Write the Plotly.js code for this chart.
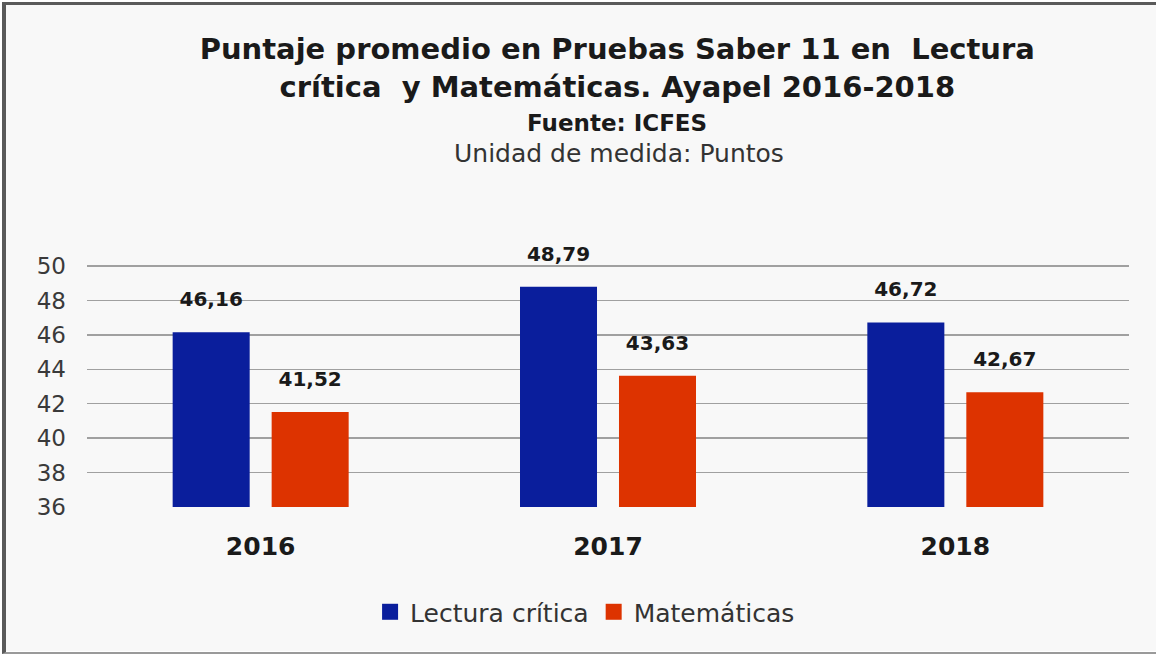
<!DOCTYPE html>
<html>
<head>
<meta charset="utf-8">
<script src="https://cdn.plot.ly/plotly-3.0.1.min.js"></script>
<style>
  html, body { margin: 0; padding: 0; background: #ffffff; }
  #wrap { position: absolute; left: 0; top: 0; width: 1156px; height: 654px; overflow: hidden; background: #ffffff; }
  #bg { position: absolute; left: 3px; top: 3px; width: 1200px; height: 648px; background: #f8f8f8; }
  #chart { position: absolute; left: 0; top: 0; width: 1156px; height: 654px; }
  #frame { position: absolute; left: 2px; top: 2px; width: 1200px; height: 647px;
           border-left: 4px solid #5a5a5a; border-top: 3px solid #5a5a5a; border-bottom: 2px solid #9a9a9a;
           pointer-events: none; }
</style>
</head>
<body>
<div id="wrap">
  <div id="bg"></div>
  <div id="chart"></div>
  <div id="frame"></div>
</div>
<script>
const years = ['2016', '2017', '2018'];
const lectura = [46.16, 48.79, 46.72];
const matematicas = [41.52, 43.63, 42.67];
const seriesNames = ['Lectura crítica', 'Matemáticas'];
const colors = ['#0a1e9c', '#dd3300'];
const yTicks = [36, 38, 40, 42, 44, 46, 48, 50];

const values = [lectura, matematicas];
const traces = [];
values.forEach((vals, i) => {
  traces.push({
    type: 'bar', x: years, y: vals, name: seriesNames[i],
    offsetgroup: String(i + 1),
    marker: { color: colors[i], line: { width: 0 } },
    showlegend: false, hoverinfo: 'skip'
  });
});
values.forEach((vals, i) => {
  traces.push({
    type: 'scatter', mode: 'markers+text', x: years, y: vals,
    offsetgroup: String(i + 1),
    marker: { size: 32, opacity: 0, color: colors[i] },
    texttemplate: '%{y:.2f}', textposition: 'top center',
    textfont: { family: 'DejaVu Sans', size: 20, color: '#1a1a1a', weight: 'bold' },
    showlegend: false, hoverinfo: 'skip', cliponaxis: false
  });
});
values.forEach((vals, i) => {
  traces.push({
    type: 'scatter', mode: 'markers', x: [null], y: [null], name: seriesNames[i],
    marker: { symbol: 'square', size: 19, color: colors[i] },
    showlegend: true, hoverinfo: 'skip'
  });
});

const layout = {
  width: 1156, height: 654,
  paper_bgcolor: 'rgba(0,0,0,0)', plot_bgcolor: 'rgba(0,0,0,0)',
  margin: { l: 87, r: 27, t: 265, b: 147 },
  separators: ',.',
  barmode: 'group', scattermode: 'group',
  bargap: 0.43, bargroupgap: 0.222,
  title: {
    text: 'Puntaje promedio en Pruebas Saber 11 en\u00a0 Lectura<br>crítica\u00a0 y Matemáticas. Ayapel 2016-2018',
    font: { family: 'DejaVu Sans', size: 29, color: '#1a1a1a', weight: 'bold' },
    x: 0.534, xanchor: 'center', xref: 'container',
    y: 0.91, yanchor: 'top', yref: 'container'
  },
  annotations: [
    { text: '<b>Fuente: ICFES</b>', xref: 'paper', yref: 'paper', x: 0.509, y: 1.587,
      xanchor: 'center', yanchor: 'middle', showarrow: false,
      font: { family: 'DejaVu Sans', size: 23, color: '#1a1a1a' } },
    { text: 'Unidad de medida: Puntos', xref: 'paper', yref: 'paper', x: 0.511, y: 1.46,
      xanchor: 'center', yanchor: 'middle', showarrow: false,
      font: { family: 'DejaVu Sans', size: 25, color: '#333333' } }
  ],
  xaxis: {
    type: 'category', showgrid: false, zeroline: false, showline: false,
    ticks: '', ticklabelstandoff: 22,
    tickfont: { family: 'DejaVu Sans', size: 25, color: '#1a1a1a', weight: 'bold' }
  },
  yaxis: {
    range: [36, 50.06], tickvals: yTicks, showgrid: true, gridcolor: '#a0a0a0', gridwidth: 1.5,
    zeroline: false, showline: false, ticks: '', ticklabelstandoff: 20,
    tickfont: { family: 'DejaVu Sans', size: 23, color: '#3a3a3a' }
  },
  legend: {
    orientation: 'h', x: 0.478, xanchor: 'center', y: -0.434, yanchor: 'middle',
    font: { family: 'DejaVu Sans', size: 25, color: '#333333' },
    bgcolor: 'rgba(0,0,0,0)', itemwidth: 30, tracegroupgap: 0
  }
};

Plotly.newPlot('chart', traces, layout, { displayModeBar: false, staticPlot: true });
</script>
</body>
</html>
